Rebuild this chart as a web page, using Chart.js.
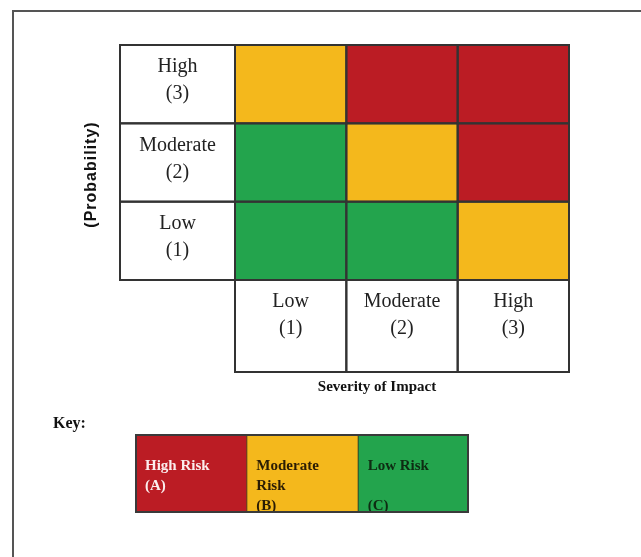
<!DOCTYPE html>
<html>
<head>
<meta charset="utf-8">
<script src="https://cdn.jsdelivr.net/npm/chart.js@4/dist/chart.umd.min.js"></script>
<style>
  html, body { margin: 0; padding: 0; background: #fff; }
  #wrap { position: relative; width: 641px; height: 557px; overflow: hidden; background: #fff; }
  #matrix { position: absolute; left: 0; top: 0; }
  #key { position: absolute; left: 135px; top: 434px; }
</style>
</head>
<body>
<div id="wrap">
  <canvas id="matrix" width="641" height="557"></canvas>
  <canvas id="key" width="334" height="79"></canvas>
</div>
<script>
// Axis levels (probability rows listed bottom to top)
const severityLevels = [['Low', '(1)'], ['Moderate', '(2)'], ['High', '(3)']];
const probabilityLevels = [['Low', '(1)'], ['Moderate', '(2)'], ['High', '(3)']];

// Risk class of each cell, one array per probability row, running across severity
const ratingsLowProb = ['C', 'C', 'B'];
const ratingsModerateProb = ['C', 'B', 'A'];
const ratingsHighProb = ['B', 'A', 'A'];

// Key entries
const keyClasses = ['A', 'B', 'C'];
const keyTexts = [['High Risk', '(A)'], ['Moderate', 'Risk', '(B)'], ['Low Risk', '', '(C)']];

const xTitle = 'Severity of Impact';
const yTitle = '(Probability)';
const keyTitle = 'Key:';

const classColors = { A: '#bb1c24', B: '#f4b81c', C: '#23a44d' };
const keyTextColors = { A: '#fbeeee', B: '#2a1c04', C: '#0e2b12' };
const lineColor = '#333';
const serif = '"Liberation Serif", "Times New Roman", serif';

const ratingRows = [ratingsLowProb, ratingsModerateProb, ratingsHighProb];

// Frame, label boxes, cell outlines and titles around the risk matrix
const matrixDecor = {
  id: 'matrixDecor',
  afterDraw(chart) {
    const ctx = chart.ctx;
    const area = chart.chartArea;
    const ys = chart.scales.y;
    const cols = chart.getDatasetMeta(0).data;
    const labelLeft = area.left - 115;
    const labelBottom = area.bottom + 92;

    ctx.save();
    // page frame
    ctx.strokeStyle = '#555';
    ctx.lineWidth = 2;
    ctx.beginPath();
    ctx.moveTo(13, 557);
    ctx.lineTo(13, 11);
    ctx.lineTo(641, 11);
    ctx.stroke();

    ctx.strokeStyle = lineColor;
    ctx.lineWidth = 2;
    ctx.fillStyle = '#222';
    ctx.font = '20px ' + serif;
    ctx.textAlign = 'center';
    ctx.textBaseline = 'alphabetic';

    // probability labels (left column)
    probabilityLevels.forEach((lines, i) => {
      const yb = ys.getPixelForValue(i);
      const yt = ys.getPixelForValue(i + 1);
      ctx.strokeRect(labelLeft, yt, area.left - labelLeft, yb - yt);
      const cx = (labelLeft + area.left) / 2;
      const cy = (yt + yb) / 2;
      ctx.fillText(lines[0], cx, cy - 12);
      ctx.fillText(lines[1], cx, cy + 15);
    });

    // severity labels (bottom row)
    severityLevels.forEach((lines, i) => {
      const el = cols[i];
      const l = el.x - el.width / 2;
      ctx.strokeRect(l, area.bottom, el.width, labelBottom - area.bottom);
      ctx.fillText(lines[0], el.x, area.bottom + 27);
      ctx.fillText(lines[1], el.x, area.bottom + 54);
    });

    // cell outlines
    ratingRows.forEach((row, i) => {
      const yb = ys.getPixelForValue(i);
      const yt = ys.getPixelForValue(i + 1);
      row.forEach((c, j) => {
        const el = cols[j];
        ctx.strokeRect(el.x - el.width / 2, yt, el.width, yb - yt);
      });
    });

    // axis titles
    ctx.fillStyle = '#111';
    ctx.font = 'bold 15px ' + serif;
    ctx.fillText(xTitle, 377, area.bottom + 111);

    ctx.save();
    ctx.translate(92, (area.top + area.bottom) / 2 + 12);
    ctx.rotate(-Math.PI / 2);
    ctx.font = 'bold 16px "Liberation Sans", Arial, sans-serif';
    try { ctx.letterSpacing = '1px'; } catch (e) {}
    ctx.textBaseline = 'middle';
    ctx.fillText(yTitle, 0, 0);
    ctx.restore();

    // key title
    ctx.textAlign = 'left';
    ctx.font = 'bold 16px ' + serif;
    ctx.fillText(keyTitle, 53, 428);
    ctx.restore();
  }
};

new Chart(document.getElementById('matrix'), {
  type: 'bar',
  data: {
    labels: severityLevels.map(l => l.join(' ')),
    datasets: ratingRows.map((row, i) => ({
      label: probabilityLevels[i].join(' '),
      data: row.map(() => 1),
      backgroundColor: row.map(c => classColors[c]),
      borderWidth: 0,
      barPercentage: 1,
      categoryPercentage: 1
    }))
  },
  options: {
    responsive: false,
    animation: false,
    layout: { padding: { left: 235, right: 72, top: 45, bottom: 277 } },
    plugins: { legend: { display: false }, tooltip: { enabled: false } },
    scales: {
      x: { stacked: true, display: false },
      y: { stacked: true, display: false, min: 0, max: 3 }
    }
  },
  plugins: [matrixDecor]
});

// Text and outline for the key strip
const keyDecor = {
  id: 'keyDecor',
  afterDraw(chart) {
    const ctx = chart.ctx;
    const area = chart.chartArea;
    ctx.save();
    ctx.font = 'bold 15px ' + serif;
    ctx.textAlign = 'left';
    ctx.textBaseline = 'alphabetic';
    keyClasses.forEach((c, i) => {
      const el = chart.getDatasetMeta(i).data[0];
      const left = Math.min(el.x, el.base);
      const top = el.y - el.height / 2;
      ctx.fillStyle = keyTextColors[c];
      keyTexts[i].forEach((t, k) => {
        if (t) ctx.fillText(t, left + 10, top + 36 + k * 20);
      });
      ctx.strokeStyle = 'rgba(50,40,30,0.8)';
      ctx.lineWidth = 1;
      ctx.beginPath();
      ctx.moveTo(Math.max(el.x, el.base) + 0.5, area.top);
      ctx.lineTo(Math.max(el.x, el.base) + 0.5, area.bottom);
      ctx.stroke();
    });
    ctx.strokeStyle = '#3a3a3a';
    ctx.lineWidth = 2;
    ctx.strokeRect(area.left + 1, area.top + 1, area.right - area.left - 2, area.bottom - area.top - 2);
    ctx.restore();
  }
};

new Chart(document.getElementById('key'), {
  type: 'bar',
  data: {
    labels: ['Key'],
    datasets: keyClasses.map((c, i) => ({
      label: keyTexts[i].filter(Boolean).join(' '),
      data: [1],
      backgroundColor: classColors[c],
      borderWidth: 0,
      barPercentage: 1,
      categoryPercentage: 1
    }))
  },
  options: {
    indexAxis: 'y',
    responsive: false,
    animation: false,
    layout: { padding: 0 },
    plugins: { legend: { display: false }, tooltip: { enabled: false } },
    scales: {
      x: { stacked: true, display: false, min: 0, max: 3 },
      y: { stacked: true, display: false }
    }
  },
  plugins: [keyDecor]
});
</script>
</body>
</html>
